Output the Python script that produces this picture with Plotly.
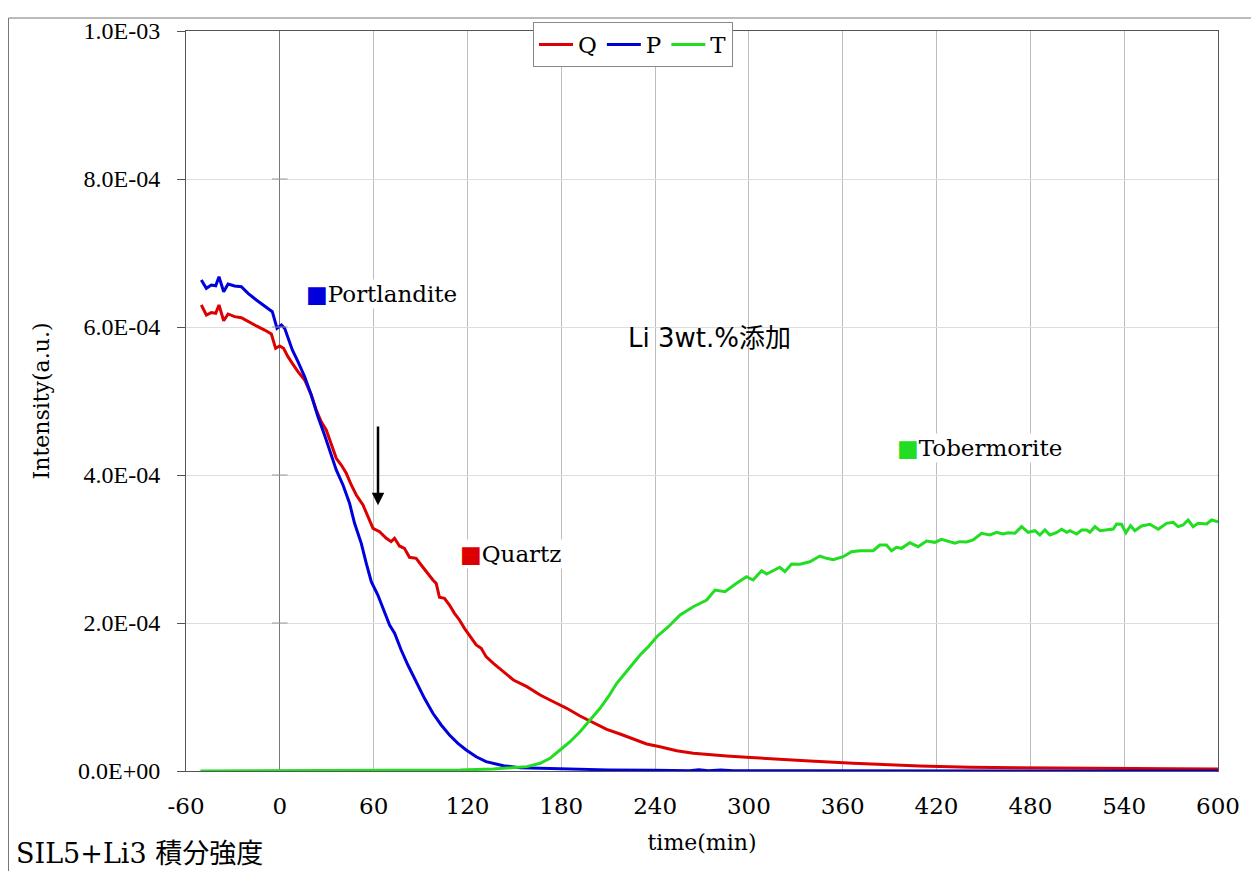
import plotly.graph_objects as go

# ---- data (intensity values in units of 1e-6) ----
q_time = [-50.2, -47.0, -43.8, -41.0, -38.9, -35.9, -33.1, -28.9, -24.6, -20.3, -15.0, -9.7, -5.4, -2.7,
          -0.1, 2.4, 5.2, 8.0, 11.6, 15.9, 20.1, 23.3, 26.5, 29.7, 32.9, 36.1, 39.3, 42.5, 45.7, 48.9,
          53.2, 56.4, 59.6, 63.8, 68.1, 71.2, 73.4, 76.5, 79.7, 82.9, 87.2, 90.4, 93.6, 97.9, 100.0,
          102.1, 105.3, 108.5, 111.7, 114.9, 118.1, 121.3, 125.6, 128.8, 131.9, 136.6, 143.0, 149.4,
          158.0, 166.5, 175.0, 183.5, 192.0, 200.6, 209.1, 217.6, 226.1, 234.6, 243.1, 253.8, 264.4,
          275.1, 285.8, 298.5, 317.7, 339.0, 366.6, 388.0, 409.3, 441.3, 473.2, 505.2, 537.0, 570.0, 600.0]
q_val = [629.7, 616.2, 619.4, 618.5, 629.7, 608.5, 617.6, 614.0, 612.6, 607.2, 601.4, 595.9, 590.5, 571.2,
         574.3, 571.2, 559.9, 550.9, 539.6, 528.4, 508.1, 487.8, 472.0, 460.8, 442.8, 422.6, 413.5, 402.3,
         386.5, 373.0, 359.5, 343.6, 327.9, 323.4, 314.5, 309.9, 314.5, 304.1, 300.9, 288.8, 287.4, 278.4,
         269.3, 258.1, 253.6, 234.7, 233.4, 224.3, 213.1, 204.1, 192.8, 183.8, 170.3, 165.8, 154.5, 145.5,
         134.2, 123.0, 114.0, 102.7, 93.6, 84.7, 74.3, 65.3, 56.3, 50.0, 42.8, 36.5, 32.8, 27.4, 23.9,
         22.6, 20.3, 18.5, 15.8, 13.5, 10.4, 8.1, 6.8, 5.0, 4.5, 3.2, 3.2, 3.0, 2.8]

p_time = [-50.2, -47.0, -43.8, -41.0, -38.9, -35.9, -33.1, -28.9, -24.6, -20.3, -15.0, -9.7, -4.8, -1.8,
          1.0, 3.1, 5.2, 8.0, 11.6, 15.9, 20.1, 24.4, 28.6, 31.8, 36.1, 40.4, 44.6, 47.8, 52.1, 55.3,
          58.5, 62.7, 67.0, 70.2, 73.4, 77.6, 81.9, 87.2, 92.5, 97.9, 103.2, 108.5, 113.9, 119.2, 125.6,
          131.9, 143.0, 153.7, 168.6, 190.0, 210.0, 240.0, 262.0, 268.0, 274.0, 282.0, 290.0, 330.0,
          400.0, 500.0, 600.0]
p_val = [663.5, 652.3, 656.8, 655.8, 668.0, 647.7, 658.1, 655.4, 654.5, 645.5, 636.5, 628.4, 620.7, 598.2,
         602.7, 598.2, 584.7, 568.9, 553.1, 532.8, 508.1, 478.8, 454.1, 433.8, 406.8, 386.5, 361.8, 334.7,
         307.7, 280.7, 255.8, 237.8, 215.3, 197.3, 186.1, 163.5, 143.2, 120.7, 98.2, 78.0, 62.2, 48.6,
         37.4, 28.4, 19.3, 12.6, 7.2, 4.5, 3.6, 2.3, 1.5, 1.0, 0.5, 1.6, 0.4, 1.3, 0.3, 0.2, 0.2, 0.1, 0.1]

t_time = [-50.8, -30.0, -10.0, 0.0, 30.0, 60.0, 90.0, 115.3, 136.6, 147.3, 158.0, 166.5, 172.8, 179.2,
          185.6, 192.0, 198.4, 204.8, 210.1, 215.5, 220.8, 226.1, 230.4, 235.7, 241.1, 248.5, 256.0,
          264.4, 273.0, 278.3, 284.7, 292.1, 298.5, 302.7, 308.1, 311.3, 315.5, 319.8, 323.0, 327.3,
          332.6, 339.0, 345.4, 349.7, 353.9, 360.3, 365.6, 371.0, 379.5, 383.7, 388.0, 391.2, 394.4,
          397.6, 402.9, 408.2, 413.6, 418.9, 423.2, 428.5, 431.7, 434.9, 439.2, 443.4, 448.8, 454.1,
          458.4, 462.6, 465.8, 470.1, 474.4, 478.6, 482.9, 486.1, 489.3, 492.5, 496.6, 500.0, 503.2,
          505.3, 509.6, 512.8, 516.0, 518.1, 521.3, 524.5, 528.8, 533.0, 535.1, 538.3, 541.1, 544.1,
          546.8, 551.1, 556.4, 561.8, 567.1, 571.3, 574.5, 577.7, 580.9, 584.1, 587.3, 592.7, 595.9, 600.0]
t_val = [0.0, 0.2, 0.3, 0.5, 0.8, 1.0, 1.2, 1.4, 2.7, 4.5, 5.9, 10.4, 17.1, 28.4,
         39.6, 53.1, 68.9, 84.7, 100.4, 118.5, 132.0, 145.5, 156.8, 168.0, 181.5, 195.0, 210.8,
         222.0, 231.0, 244.6, 242.3, 253.6, 262.6, 258.1, 270.7, 266.2, 270.7, 275.3, 269.3, 279.7,
         279.3, 282.8, 290.5, 287.4, 285.6, 289.6, 296.4, 297.7, 297.7, 305.4, 305.4, 297.7, 302.3,
         300.9, 308.5, 303.1, 310.8, 309.0, 313.1, 309.9, 307.7, 309.9, 309.5, 312.2, 321.2, 318.9,
         322.6, 320.3, 322.0, 321.2, 330.2, 322.6, 324.7, 318.9, 325.7, 318.9, 322.0, 326.6, 322.6,
         324.7, 320.3, 325.7, 325.7, 322.6, 330.2, 324.7, 325.7, 327.0, 333.8, 333.4, 322.0, 331.5,
         324.7, 331.1, 333.4, 326.6, 334.7, 336.1, 330.2, 332.4, 339.2, 330.2, 334.7, 333.8, 339.2, 336.9]

y_tick_vals = [0, 2e-4, 4e-4, 6e-4, 8e-4, 1e-3]
y_tick_text = ["0.0E+00", "2.0E-04", "4.0E-04", "6.0E-04", "8.0E-04", "1.0E-03"]
x_tick_vals = [-60, 0, 60, 120, 180, 240, 300, 360, 420, 480, 540, 600]
x_tick_text = ["-60", "0", "60", "120", "180", "240", "300", "360", "420", "480", "540", "600"]

SCALE = 1e-6
RED, BLUE, GREEN = "#dd0000", "#0000dd", "#22dd22"
SERIF = "DejaVu Serif, serif"
NARROW_SERIF = "Liberation Serif, serif"

fig = go.Figure()
for name, xs, ys, col in [("Q", q_time, q_val, RED), ("P", p_time, p_val, BLUE), ("T", t_time, t_val, GREEN)]:
    fig.add_trace(go.Scatter(x=xs, y=[v * SCALE for v in ys], name=name, mode="lines",
                             line=dict(color=col, width=3)))

# page has an 8px body margin; figure occupies page (8..1259, 8..871)
W, H = 1251, 863
L, R, T, B = 178, 41, 23, 100
pw, ph = W - L - R, H - T - B
PLOT_LEFT_PAGE, PLOT_BOTTOM_PAGE = 186, 771


def px(xp):  # page x -> paper
    return (xp - PLOT_LEFT_PAGE) / pw


def py(yp):  # page y -> paper
    return (PLOT_BOTTOM_PAGE - yp) / ph


shapes = []
shapes.append(dict(type="line", xref="paper", yref="paper", x0=px(8.5), x1=px(1262), y0=py(18), y1=py(18),
                   line=dict(color="#777", width=1)))
shapes.append(dict(type="line", xref="paper", yref="paper", x0=px(8.5), x1=px(8.5), y0=py(18), y1=py(875),
                   line=dict(color="#777", width=1)))
for v in y_tick_vals[1:-1]:
    shapes.append(dict(type="line", xref="x", yref="y", x0=-5, x1=5, y0=v, y1=v,
                       line=dict(color="#999", width=1)))

annotations = [
    dict(x=64.9, y=644.6 * SCALE, text="<span style='color:%s'>■</span>Portlandite" % BLUE,
         showarrow=False, bgcolor="white", font=dict(family=SERIF, size=23, color="black")),
    dict(x=147.3, y=293.2 * SCALE, text="<span style='color:%s'>■</span>Quartz" % RED,
         showarrow=False, bgcolor="white", font=dict(family=SERIF, size=23, color="black")),
    dict(x=447.3, y=436.5 * SCALE, text="<span style='color:%s'>■</span>Tobermorite" % GREEN,
         showarrow=False, bgcolor="white", font=dict(family=SERIF, size=23, color="black")),
    dict(x=275.1, y=585.1 * SCALE, text="Li 3wt.%添加", showarrow=False,
         font=dict(family="DejaVu Sans, Noto Sans CJK JP, sans-serif", size=26, color="black")),
    dict(x=62.8, y=359 * SCALE, ax=62.8, ay=467.6 * SCALE, axref="x", ayref="y", xref="x", yref="y",
         text="", showarrow=True, arrowhead=2, arrowsize=1, arrowwidth=2.5, arrowcolor="black"),
    dict(xref="paper", yref="paper", x=px(14), y=py(853), xanchor="left", yanchor="middle",
         text="SIL5+Li3 積分強度", showarrow=False,
         font=dict(family="DejaVu Serif, Noto Sans CJK JP, serif", size=27, color="black")),
]

fig.update_layout(
    width=W, height=H,
    margin=dict(l=L, r=R, t=T, b=B, autoexpand=False),
    paper_bgcolor="white", plot_bgcolor="white",
    showlegend=True,
    legend=dict(orientation="h", x=px(533), y=py(22), xanchor="left", yanchor="top",
                bgcolor="white", bordercolor="#888", borderwidth=1,
                font=dict(family=SERIF, size=23, color="black"), itemwidth=34,
                tracegroupgap=0),
    shapes=shapes, annotations=annotations,
    xaxis=dict(range=[-60, 600], tickvals=x_tick_vals, ticktext=x_tick_text, showgrid=True,
               gridcolor="#bdbdbd", gridwidth=1,
               zeroline=True, zerolinecolor="#777", zerolinewidth=1,
               showline=True, linecolor="#555", linewidth=1, mirror=True, ticks="",
               ticklabelstandoff=14,
               tickfont=dict(family=SERIF, size=23, color="black"),
               title=dict(text="time(min)", font=dict(family=SERIF, size=22, color="black"), standoff=17)),
    yaxis=dict(range=[0, 1e-3], tickvals=y_tick_vals, ticktext=y_tick_text, showgrid=True,
               gridcolor="#dddddd", gridwidth=1, zeroline=False,
               showline=True, linecolor="#555", linewidth=1, mirror=True,
               ticks="outside", ticklen=8, tickcolor="#555", ticklabelstandoff=12,
               tickfont=dict(family=NARROW_SERIF, size=24, color="black"),
               title=dict(text="Intensity(a.u.)", font=dict(family=SERIF, size=22, color="black"), standoff=22)),
)

fig.write_html("out.html")
